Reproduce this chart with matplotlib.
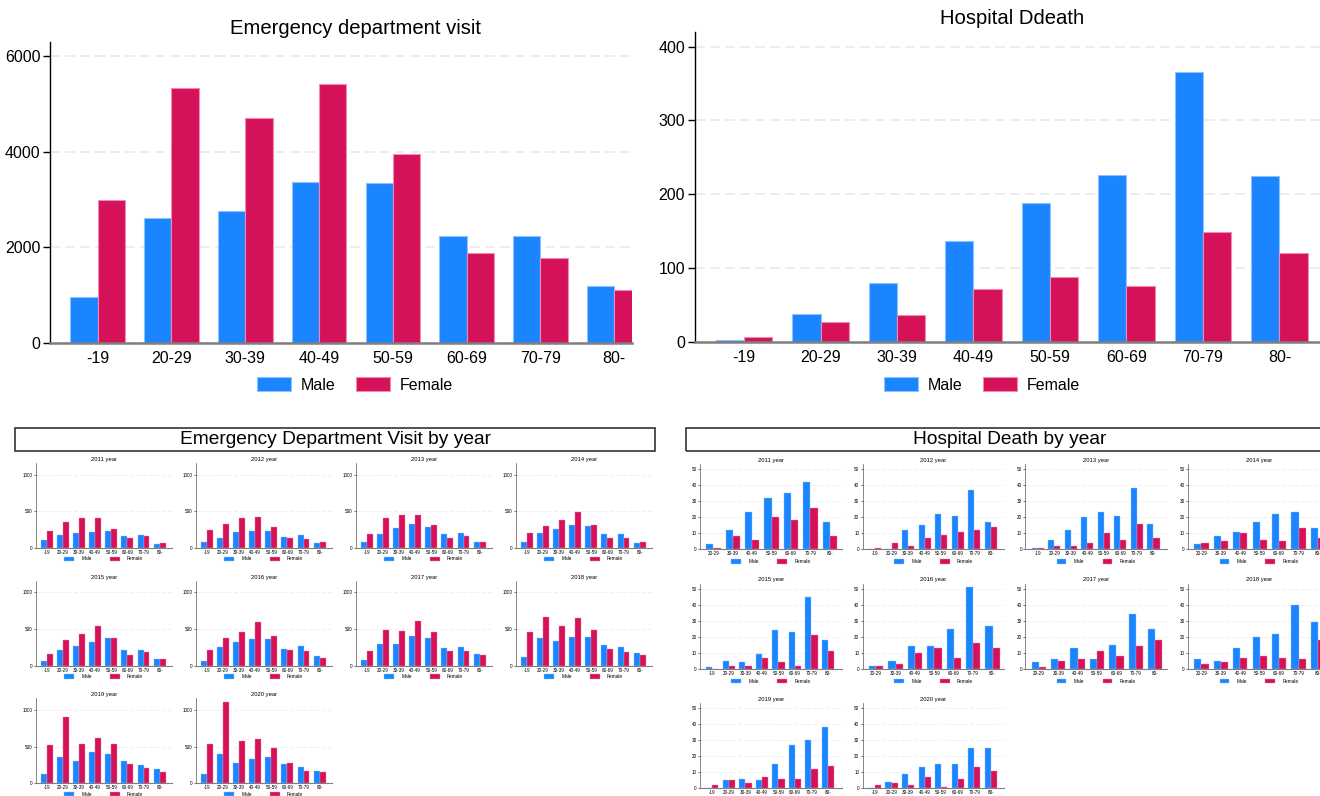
import matplotlib
matplotlib.use('Agg')
import matplotlib.pyplot as plt
from matplotlib.patches import Patch, Rectangle

plt.rcParams['font.family'] = ['Liberation Sans', 'DejaVu Sans']

W, H = 1320, 796
BLUE, BLUE_E = '#1A85FF', '#8DC2FF'
RED, RED_E = '#D41159', '#F08AB0'

ages8 = ['-19', '20-29', '30-39', '40-49', '50-59', '60-69', '70-79', '80-']
ages7 = ages8[1:]

# totals (top row)
edv_male = [954, 2610, 2764, 3362, 3348, 2242, 2242, 1197]
edv_female = [2986, 5332, 4699, 5430, 3954, 1880, 1775, 1107]
hd_male = [2, 38, 79, 136, 188, 226, 365, 225]
hd_female = [6, 27, 36, 71, 88, 76, 149, 120]

years = [2011, 2012, 2013, 2014, 2015, 2016, 2017, 2018, 2019, 2020]

# emergency department visit by year (all 8 age groups)
edv_year_male = [
    [105, 177, 205, 218, 227, 164, 182, 59],
    [86, 141, 214, 236, 232, 145, 177, 68],
    [86, 191, 277, 327, 286, 191, 205, 77],
    [86, 205, 255, 314, 300, 191, 191, 68],
    [68, 210, 274, 324, 374, 219, 219, 87],
    [64, 251, 320, 361, 361, 224, 265, 128],
    [82, 292, 292, 402, 384, 237, 260, 160],
    [123, 374, 333, 397, 397, 283, 251, 169],
    [128, 361, 301, 434, 406, 311, 256, 196],
    [128, 397, 274, 338, 365, 265, 224, 164],
]
edv_year_female = [
    [232, 359, 409, 405, 259, 141, 164, 68],
    [241, 332, 409, 427, 286, 136, 127, 86],
    [186, 405, 445, 455, 314, 141, 168, 82],
    [205, 305, 382, 491, 318, 141, 141, 82],
    [164, 352, 438, 548, 374, 142, 192, 96],
    [210, 379, 457, 594, 406, 219, 205, 100],
    [205, 493, 479, 616, 457, 201, 205, 142],
    [466, 671, 539, 653, 489, 224, 183, 142],
    [525, 909, 539, 616, 539, 269, 215, 155],
    [539, 1110, 575, 607, 489, 274, 169, 151],
]

# hospital death by year (some years have no -19 group)
hd_year_cats = [ages7, ages8, ages8, ages7, ages8, ages7, ages7, ages7, ages8, ages8]
hd_year_male = [
    [3, 12, 23, 32, 35, 42, 17],
    [0, 0, 12, 15, 22, 21, 37, 17],
    [1, 6, 12, 20, 23, 21, 38, 16],
    [3, 8, 11, 17, 22, 23, 13],
    [1, 5, 4, 9, 24, 23, 45, 18],
    [2, 5, 14, 14, 25, 51, 27],
    [4, 6, 13, 6, 15, 34, 25],
    [6, 5, 13, 20, 22, 40, 29],
    [0, 5, 6, 5, 15, 27, 30, 38],
    [0, 4, 9, 13, 15, 15, 25, 25],
]
hd_year_female = [
    [1, 8, 6, 20, 18, 26, 8],
    [1, 4, 2, 7, 9, 11, 12, 14],
    [1, 2, 2, 4, 10, 6, 16, 7],
    [4, 5, 10, 6, 5, 13, 7],
    [0, 2, 2, 7, 4, 2, 21, 11],
    [2, 3, 10, 13, 7, 16, 13],
    [1, 5, 6, 11, 8, 14, 18],
    [3, 4, 7, 8, 7, 6, 18],
    [2, 5, 3, 7, 6, 6, 12, 14],
    [2, 3, 2, 7, 1, 6, 13, 11],
]

fig = plt.figure(figsize=(W / 100, H / 100), dpi=100)


def px_axes(left, top, right, bottom):
    return fig.add_axes([left / W, 1 - bottom / H, (right - left) / W, (bottom - top) / H])


def bars(ax, cats, male, female, lw):
    x = list(range(len(cats)))
    w = 0.37
    ax.bar([i - w / 2 for i in x], male, w, color=BLUE, edgecolor=BLUE_E, linewidth=lw, zorder=2)
    ax.bar([i + w / 2 for i in x], female, w, color=RED, edgecolor=RED_E, linewidth=lw, zorder=2)
    ax.set_xticks(x)
    ax.set_xticklabels(cats)


def style(ax, yticks, ymax, fs, small=False):
    ax.set_ylim(0, ymax)
    ax.set_yticks(yticks)
    ax.spines[['top', 'right']].set_visible(False)
    ax.spines['left'].set_color('#555555' if small else 'black')
    ax.spines['bottom'].set_color('#7f7f7f')
    ax.spines['left'].set_linewidth(0.5 if small else 1.0)
    ax.spines['bottom'].set_linewidth(0.8 if small else 1.8)
    ax.yaxis.grid(True, linestyle=(0, (6, 3)), color='#EAEAEA', linewidth=0.5 if small else 1.2)
    ax.set_axisbelow(True)
    ax.tick_params(axis='x', length=0, labelsize=fs, pad=1.5 if small else 6)
    ax.tick_params(axis='y', length=1.5 if small else 5, width=0.4 if small else 1,
                   labelsize=fs, pad=1 if small else 2)


def legend(x, y, fs, hl, hh, tp, cs, lw):
    fig.legend(handles=[Patch(fc=BLUE, ec=BLUE_E, lw=lw), Patch(fc=RED, ec=RED_E, lw=lw)],
               labels=['Male', 'Female'], loc='center', bbox_to_anchor=(x / W, 1 - y / H),
               ncol=2, frameon=False, fontsize=fs, handlelength=hl, handleheight=hh,
               handletextpad=tp, columnspacing=cs, borderpad=0, borderaxespad=0)


# ---- top left: emergency department visit
ax = px_axes(50, 42, 632, 343)
bars(ax, ages8, edv_male, edv_female, 0.8)
ax.set_xlim(-0.646, 7.24)
style(ax, [0, 2000, 4000, 6000], 6300, 11.5)
fig.text(356 / W, 1 - 28 / H, 'Emergency department visit', ha='center', va='center', fontsize=14.6)
legend(355, 385, 11.5, 2.1, 0.95, 0.6, 1.3, 0.8)

# ---- top right: hospital death
ax = px_axes(694.6, 32.3, 1320, 341.7)
bars(ax, ages8, hd_male, hd_female, 0.8)
ax.set_xlim(-0.646, 7.53)
style(ax, [0, 100, 200, 300, 400], 419.5, 11.5)
fig.text(1012 / W, 1 - 19 / H, 'Hospital Ddeath', ha='center', va='center', fontsize=14.6)
legend(982, 385, 11.5, 2.1, 0.95, 0.6, 1.3, 0.8)

# ---- boxed titles of the yearly panels
fig.patches.append(Rectangle((15 / W, 1 - 451 / H), 640 / W, 23 / H, transform=fig.transFigure,
                             fill=False, edgecolor='#333333', linewidth=1.2))
fig.text(335 / W, 1 - 439.5 / H, 'Emergency Department Visit by year', ha='center', va='center',
         fontsize=13.8)
fig.patches.append(Rectangle((686 / W, 1 - 451 / H), 660 / W, 23 / H, transform=fig.transFigure,
                             fill=False, edgecolor='#333333', linewidth=1.2))
fig.text(1010 / W, 1 - 439.5 / H, 'Hospital Death by year', ha='center', va='center', fontsize=13.8)

# ---- emergency visits by year
for k, yr in enumerate(years):
    r, c = divmod(k, 4)
    left = 35.7 + 160 * c
    base = 548 + 117.7 * r
    ax = px_axes(left, base - 85, left + 136, base)
    bars(ax, ages8, edv_year_male[k], edv_year_female[k], 0.3)
    ax.set_xlim(-0.7, 7.75)
    style(ax, [0, 500, 1000], 1160, 3.3, small=True)
    ax.set_title(f'{yr} year', fontsize=4.2, pad=1.5)
    legend(left + 68, base + 11, 3.4, 2.0, 1.0, 1.6, 3.9, 0.3)

# ---- hospital death by year
for k, yr in enumerate(years):
    r, c = divmod(k, 4)
    left = 700 + 162.7 * c
    base = 549.3 + 119.5 * r
    ax = px_axes(left, base - 85.3, left + 141.7, base)
    cats = hd_year_cats[k]
    bars(ax, cats, hd_year_male[k], hd_year_female[k], 0.3)
    if len(cats) == 8:
        ax.set_xlim(-0.75, 7.83)
    else:
        ax.set_xlim(-0.69, 6.61)
    style(ax, [0, 10, 20, 30, 40, 50], 53.3, 3.3, small=True)
    ax.set_title(f'{yr} year', fontsize=4.2, pad=1.5)
    # the last row's legend falls below the picture edge in the original
    if r < 2:
        legend(left + 71, base + 12.4, 3.4, 2.0, 1.0, 1.6, 3.9, 0.3)

fig.savefig('out.png', dpi=100)
